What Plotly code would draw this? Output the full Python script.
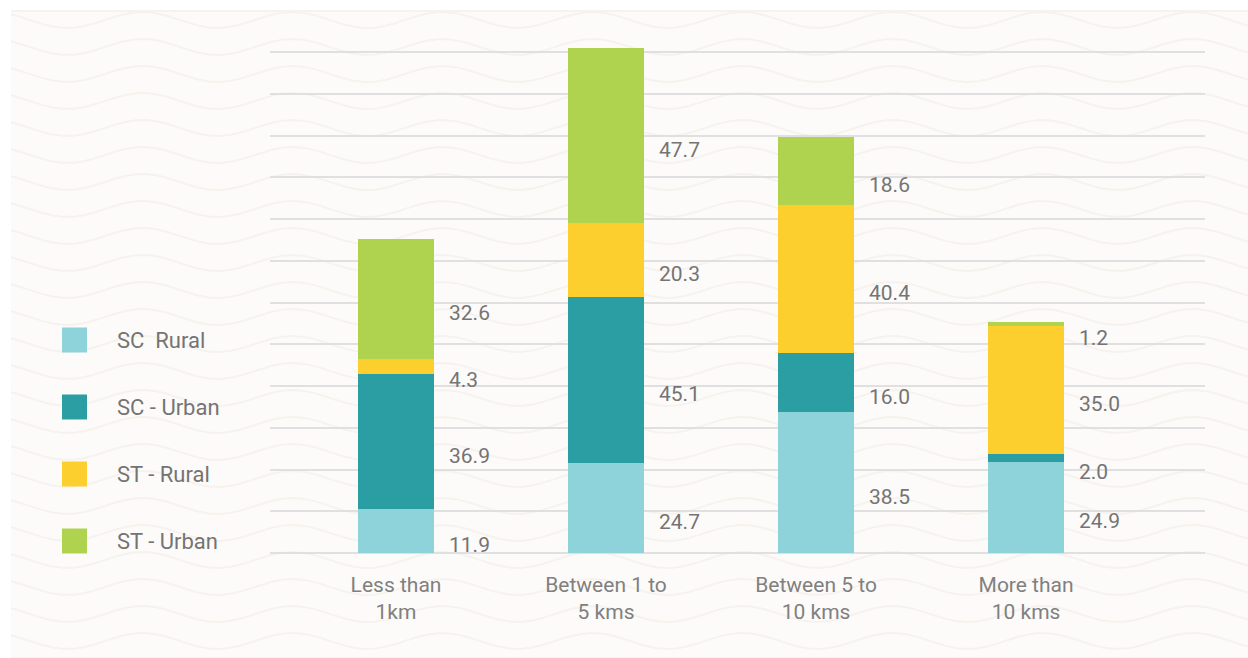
import numpy as np
import plotly.graph_objects as go

categories = ["Less than<br>1km", "Between 1 to<br>5 kms", "Between 5 to<br>10 kms", "More than<br>10 kms"]
series_names = ["SC  Rural", "SC - Urban", "ST - Rural", "ST - Urban"]
sc_rural = [11.9, 24.7, 38.5, 24.9]
sc_urban = [36.9, 45.1, 16.0, 2.0]
st_rural = [4.3, 20.3, 40.4, 35.0]
st_urban = [32.6, 47.7, 18.6, 1.2]
colors = ["#8fd3da", "#2a9ea2", "#fdcf2e", "#afd24f"]

series = [sc_rural, sc_urban, st_rural, st_urban]

W, H = 1248, 658
L, R, T, B = 270, 43, 11, 105
PW, PH = W - L - R, H - T - B
DTICK = 11.4
YMAX = 148.0
FONT = "Roboto, Arial, sans-serif"
TXT = "#747474"

def px2x(px):
    return (px - L) / PW

def px2y(py):
    return (H - B - py) / PH

fig = go.Figure()
xs = list(range(len(categories)))
for name, vals, col in zip(series_names, series, colors):
    fig.add_trace(go.Bar(x=xs, y=vals, name=name, marker=dict(color=col, line=dict(width=0)),
                         width=0.362, showlegend=False, hoverinfo="y+name"))

shapes = []
# cream background
shapes.append(dict(type="rect", xref="paper", yref="paper", x0=px2x(11), x1=px2x(W + 5),
                   y0=px2y(H + 5), y1=px2y(11), fillcolor="#fdfbf9", line=dict(width=0), layer="below"))
# subtle wave decoration
xx = np.linspace(11, W, 120)
for k in range(-1, 25):
    base = 20 + k * 27
    yy = base + 8 * np.sin((xx - 30) / 150 * 2 * np.pi)
    yy = np.clip(yy, 11, H)
    path = "M " + " L ".join(f"{px2x(a):.5f},{px2y(b):.5f}" for a, b in zip(xx, yy))
    shapes.append(dict(type="path", xref="paper", yref="paper", path=path,
                       line=dict(color="#f6f2ed", width=2), layer="below"))

annotations = []
# value labels
for i in xs:
    base = 0.0
    ys = []
    for vals in series:
        ys.append(base + vals[i] / 2)
        base += vals[i]
    gap = 8.0
    for j in range(1, len(ys)):
        if ys[j] - ys[j - 1] < gap:
            ys[j] = ys[j - 1] + gap
    for vals, y in zip(series, ys):
        annotations.append(dict(x=i + 0.243, y=y, xref="x", yref="y", text=f"{vals[i]:.1f}",
                                showarrow=False, xanchor="left", yanchor="top",
                                font=dict(family=FONT, size=21, color=TXT)))

# manual legend
for n, (name, col) in enumerate(zip(series_names, colors)):
    cy = 340 + n * 67
    shapes.append(dict(type="rect", xref="paper", yref="paper", x0=px2x(62), x1=px2x(87),
                       y0=px2y(cy + 12.5), y1=px2y(cy - 12.5), fillcolor=col, line=dict(width=0)))
    annotations.append(dict(x=px2x(115), y=px2y(cy), xref="paper", yref="paper", text=name,
                            showarrow=False, xanchor="left", yanchor="middle",
                            font=dict(family=FONT, size=22, color=TXT)))

fig.update_layout(
    width=W, height=H, barmode="stack",
    margin=dict(l=L, r=R, t=T, b=B),
    paper_bgcolor="white", plot_bgcolor="rgba(0,0,0,0)",
    shapes=shapes, annotations=annotations,
    xaxis=dict(range=[-0.6, 3.852], tickmode="array", tickvals=xs, ticktext=categories,
               showgrid=False, zeroline=False, showline=False, ticks="",
               tickfont=dict(family=FONT, size=21, color="#808080"), ticklabelstandoff=17),
    yaxis=dict(range=[0, YMAX], dtick=DTICK, tick0=0, showticklabels=False, showgrid=True,
               gridcolor="#e0e0e0", gridwidth=1.5, zeroline=True, zerolinecolor="#e0e0e0",
               zerolinewidth=1.5, showline=False, ticks=""),
    font=dict(family=FONT),
)

fig.write_html("out.html")
